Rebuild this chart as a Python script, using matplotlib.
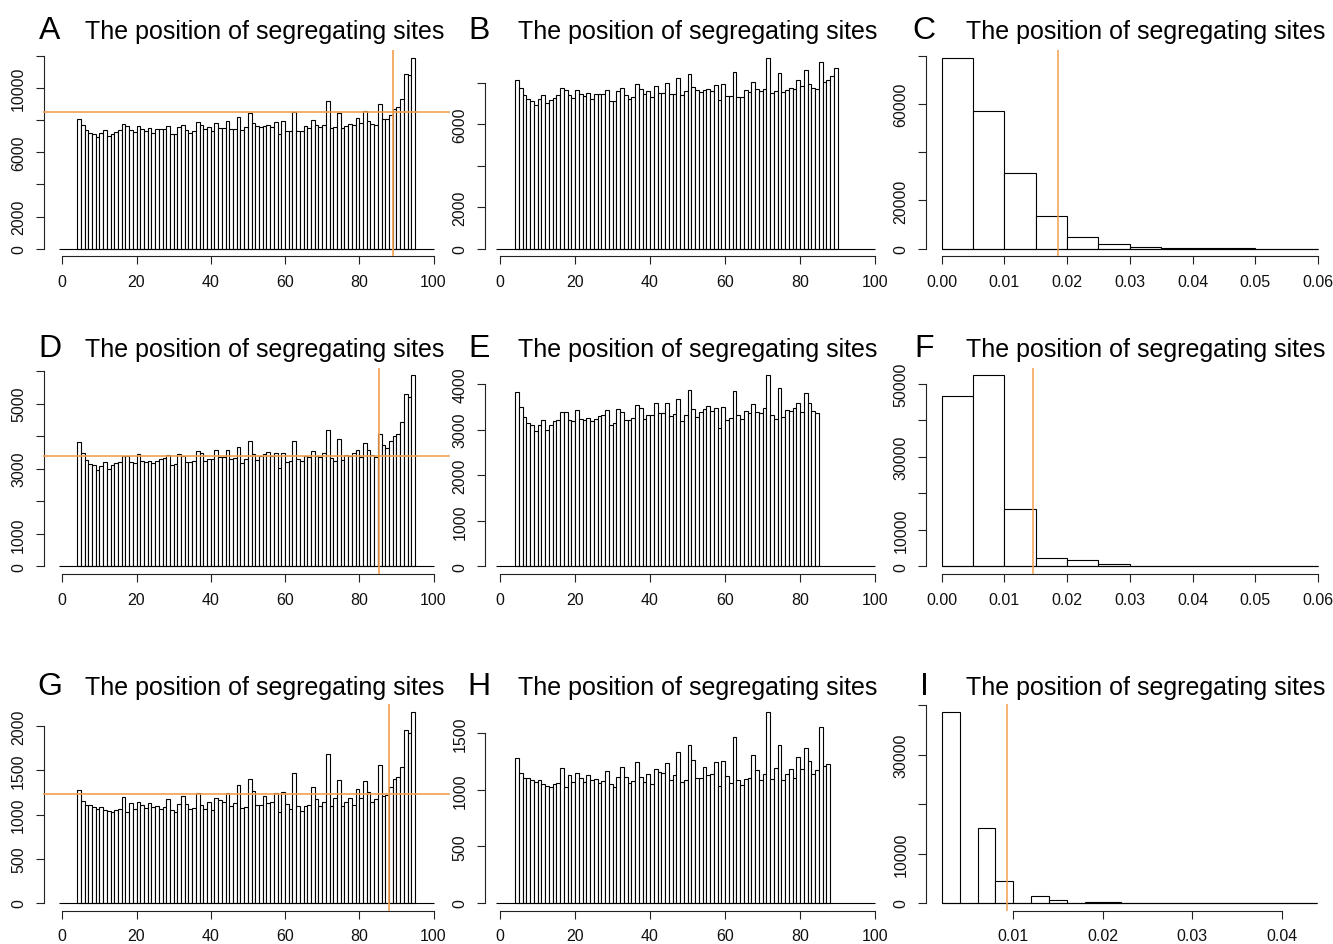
import numpy as np
import matplotlib
matplotlib.use('Agg')
import matplotlib.pyplot as plt

plt.rcParams['font.family'] = ['Liberation Sans', 'DejaVu Sans']

W, H = 1333, 945

# ---------------- data ----------------
# Unit-width bins of position; first non-empty bin starts at 4
pos_first_bin = 4
pos_bins_lo, pos_bins_hi = -1, 100

counts_A = [8100, 7730, 7410, 7200, 7120, 6930, 7200, 7410, 7010, 7140,
            7280, 7410, 7760, 7620, 7380, 7240, 7650, 7460, 7330, 7490,
            7200, 7460, 7460, 7460, 7650, 7120, 7120, 7570, 7730, 7380,
            7220, 7310, 7920, 7700, 7440, 7600, 7300, 7820, 7510, 7510,
            7980, 7460, 7460, 8210, 7380, 7600, 8430, 7810, 7620, 7550,
            7650, 7680, 7570, 7890, 7140, 7950, 7350, 7350, 8530, 7300,
            7300, 7630, 7540, 8020, 7700, 7570, 7700, 9200, 7510, 7600,
            8480, 7540, 7650, 7760, 7680, 8130, 7820, 8590, 7940, 7760,
            7700, 8990, 8050, 8100, 8320, 8690, 8820, 9340, 10870, 10810,
            11900]
n_bins_B = 86

counts_D = [3825, 3490, 3270, 3155, 3110, 2965, 3090, 3210, 3000, 3100,
            3180, 3210, 3390, 3390, 3210, 3190, 3440, 3235, 3205, 3250,
            3180, 3235, 3290, 3315, 3420, 3110, 3150, 3445, 3395, 3200,
            3220, 3250, 3535, 3470, 3235, 3310, 3310, 3580, 3360, 3370,
            3585, 3300, 3345, 3680, 3180, 3310, 3860, 3460, 3270, 3380,
            3445, 3520, 3400, 3475, 3030, 3490, 3220, 3250, 3855, 3310,
            3235, 3400, 3360, 3555, 3395, 3370, 3475, 4190, 3320, 3235,
            3920, 3280, 3420, 3400, 3470, 3590, 3375, 3800, 3580, 3410,
            3360, 4070, 3730, 3640, 3850, 4000, 4080, 4440, 5300, 5210,
            5870]
n_bins_E = 81

counts_G = [1279, 1150, 1103, 1103, 1088, 1068, 1088, 1056, 1035, 1026,
            1050, 1062, 1197, 1029, 1135, 1068, 1147, 1109, 1074, 1129,
            1088, 1100, 1062, 1082, 1171, 1056, 1026, 1118, 1206, 1118,
            1059, 1076, 1244, 1112, 1068, 1144, 1056, 1188, 1159, 1147,
            1241, 1091, 1132, 1335, 1071, 1088, 1400, 1265, 1106, 1103,
            1206, 1129, 1144, 1247, 1032, 1253, 1124, 1065, 1468, 1091,
            1041, 1100, 1106, 1309, 1179, 1091, 1141, 1688, 1094, 1191,
            1394, 1091, 1138, 1188, 1106, 1288, 1188, 1374, 1259, 1144,
            1174, 1559, 1215, 1226, 1316, 1406, 1425, 1538, 1959, 1921,
            2158]
n_bins_H = 84

# reference lines (orange)
hline_A, vline_A = 8500, 89.2
hline_D, vline_D = 3385, 85.2
hline_G, vline_G = 1229, 88.06

# frequency histograms
freq_edges_CF = [0.0, 0.005, 0.01, 0.015, 0.02, 0.025, 0.03, 0.035,
                 0.04, 0.045, 0.05, 0.055, 0.06]
counts_C = [79300, 57100, 31300, 13650, 4950, 1800, 700, 300, 150, 80, 40, 20]
counts_F = [46600, 52350, 15740, 2350, 1640, 550, 200, 150, 80, 40, 20, 10]
vline_C = 0.0185
vline_F = 0.0146

freq_edges_I = [0.002, 0.004, 0.006, 0.008, 0.010, 0.012, 0.014, 0.016,
                0.018, 0.020, 0.022, 0.024, 0.026, 0.028, 0.030, 0.032,
                0.034, 0.036, 0.038, 0.040, 0.042, 0.044]
counts_I = [38600, 0, 15130, 4500, 0, 1470, 540, 0, 300, 150, 0, 80, 0,
            40, 30, 0, 15, 10, 0, 5, 5]
vline_I = 0.0093

panel_letters = ['A', 'B', 'C', 'D', 'E', 'F', 'G', 'H', 'I']
title = 'The position of segregating sites'

pos_xticks = [0, 20, 40, 60, 80, 100]
freq_xticks = [0.0, 0.01, 0.02, 0.03, 0.04, 0.05, 0.06]
freq_xticklabels = ['0.00', '0.01', '0.02', '0.03', '0.04', '0.05', '0.06']
I_xticks = [0.01, 0.02, 0.03, 0.04]
I_xticklabels = ['0.01', '0.02', '0.03', '0.04']

yt_A = [0, 2000, 4000, 6000, 8000, 10000, 12000]
yl_A = ['0', '2000', '', '6000', '', '10000', '']
yt_B = [0, 2000, 4000, 6000, 8000]
yl_B = ['0', '2000', '', '6000', '']
yt_C = [0, 20000, 40000, 60000, 80000]
yl_C = ['0', '20000', '', '60000', '']
yt_D = [0, 1000, 2000, 3000, 4000, 5000, 6000]
yl_D = ['0', '1000', '', '3000', '', '5000', '']
yt_E = [0, 1000, 2000, 3000, 4000]
yl_E = ['0', '1000', '2000', '3000', '4000']
yt_F = [0, 10000, 20000, 30000, 40000, 50000]
yl_F = ['0', '10000', '', '30000', '', '50000']
yt_G = [0, 500, 1000, 1500, 2000]
yl_G = ['0', '500', '1000', '1500', '2000']
yt_H = [0, 500, 1000, 1500]
yl_H = ['0', '500', '1000', '1500']
yt_I = [0, 10000, 20000, 30000, 40000]
yl_I = ['0', '10000', '', '30000', '']

# ---------------- layout (pixels) ----------------
col_lr = [(43.5, 448.5), (485, 890), (926, 1333)]
row_tb = [(51, 257.3), (368.7, 575), (705.4, 911.7)]
col_xlim = [(-5.06, 104.04), (-4.0, 104.0), (-0.0025, 0.0624)]
I_xlim = (0.00023, 0.04574)

ORANGE = '#F4A050'
LW = 0.8

fig = plt.figure(figsize=(W / 100, H / 100), dpi=100)
fig.patch.set_facecolor('white')


def make_ax(r, c):
    l, rr = col_lr[c]
    t, b = row_tb[r]
    return fig.add_axes([l / W, 1 - b / H, (rr - l) / W, (b - t) / H])


def style(ax, xticks, xlabels, yticks, ylabels, xbounds):
    for s in ['top', 'right']:
        ax.spines[s].set_visible(False)
    for s in ['left', 'bottom']:
        ax.spines[s].set_linewidth(LW)
        ax.spines[s].set_color('#222222')
    ax.spines['bottom'].set_bounds(*xbounds)
    ax.spines['left'].set_bounds(yticks[0], yticks[-1])
    ax.set_xticks(xticks, xlabels)
    ax.set_yticks(yticks, ylabels)
    ax.tick_params(axis='both', direction='out', length=5.5, width=LW,
                   color='#222222', labelsize=11.5, labelcolor='#111111')
    ax.tick_params(axis='x', pad=7.3)
    ax.tick_params(axis='y', pad=7)
    for lab in ax.get_yticklabels():
        lab.set_rotation(90)
        lab.set_va('center')
        lab.set_ha('right')
    ax.patch.set_alpha(0)


def pos_panel(r, c, counts, nbins, yt, yl, hl=None, vl=None):
    ax = make_ax(r, c)
    vals = counts[:nbins]
    edges = np.arange(pos_first_bin, pos_first_bin + len(vals))
    ax.hlines(0, pos_bins_lo, pos_bins_hi, color='black', lw=LW)
    ax.bar(edges, vals, width=1, align='edge', facecolor='white',
           edgecolor='black', linewidth=LW)
    m = max(vals)
    ax.set_xlim(*col_xlim[c])
    ax.set_ylim(-0.04 * m, 1.04 * m)
    if hl is not None:
        ax.axhline(hl, color=ORANGE, lw=1.2, zorder=5, clip_on=False)
    if vl is not None:
        ax.axvline(vl, color=ORANGE, lw=1.2, zorder=5)
    style(ax, pos_xticks, [str(v) for v in pos_xticks], yt, yl, (0, 100))
    return ax


def freq_panel(r, c, edges, counts, yt, yl, vl, xt, xtl, xlim):
    ax = make_ax(r, c)
    e = np.array(edges)
    ax.hlines(0, e[0], e[-1], color='black', lw=LW)
    ax.bar(e[:-1], counts, width=np.diff(e), align='edge', facecolor='white',
           edgecolor='black', linewidth=LW)
    m = max(counts)
    ax.set_xlim(*xlim)
    ax.set_ylim(-0.04 * m, 1.04 * m)
    ax.axvline(vl, color=ORANGE, lw=1.1, zorder=5)
    style(ax, xt, xtl, yt, yl, (xt[0], xt[-1]))
    return ax


pos_panel(0, 0, counts_A, len(counts_A), yt_A, yl_A, hline_A, vline_A)
pos_panel(0, 1, counts_A, n_bins_B, yt_B, yl_B)
freq_panel(0, 2, freq_edges_CF, counts_C, yt_C, yl_C, vline_C,
           freq_xticks, freq_xticklabels, col_xlim[2])
pos_panel(1, 0, counts_D, len(counts_D), yt_D, yl_D, hline_D, vline_D)
pos_panel(1, 1, counts_D, n_bins_E, yt_E, yl_E)
freq_panel(1, 2, freq_edges_CF, counts_F, yt_F, yl_F, vline_F,
           freq_xticks, freq_xticklabels, col_xlim[2])
pos_panel(2, 0, counts_G, len(counts_G), yt_G, yl_G, hline_G, vline_G)
pos_panel(2, 1, counts_G, n_bins_H, yt_H, yl_H)
freq_panel(2, 2, freq_edges_I, counts_I, yt_I, yl_I, vline_I,
           I_xticks, I_xticklabels, I_xlim)

# titles and panel letters
letter_cx = [49.5, 479, 924]
title_x = [85, 518, 966]
title_base = [39.3, 357, 695.5]
k = 0
for r in range(3):
    for c in range(3):
        fig.text(letter_cx[c] / W, 1 - title_base[r] / H, panel_letters[k],
                 ha='center', va='baseline', fontsize=23, color='black')
        fig.text(title_x[c] / W, 1 - title_base[r] / H, title,
                 ha='left', va='baseline', fontsize=18, color='black')
        k += 1

fig.savefig('out.png', dpi=100, facecolor='white')
